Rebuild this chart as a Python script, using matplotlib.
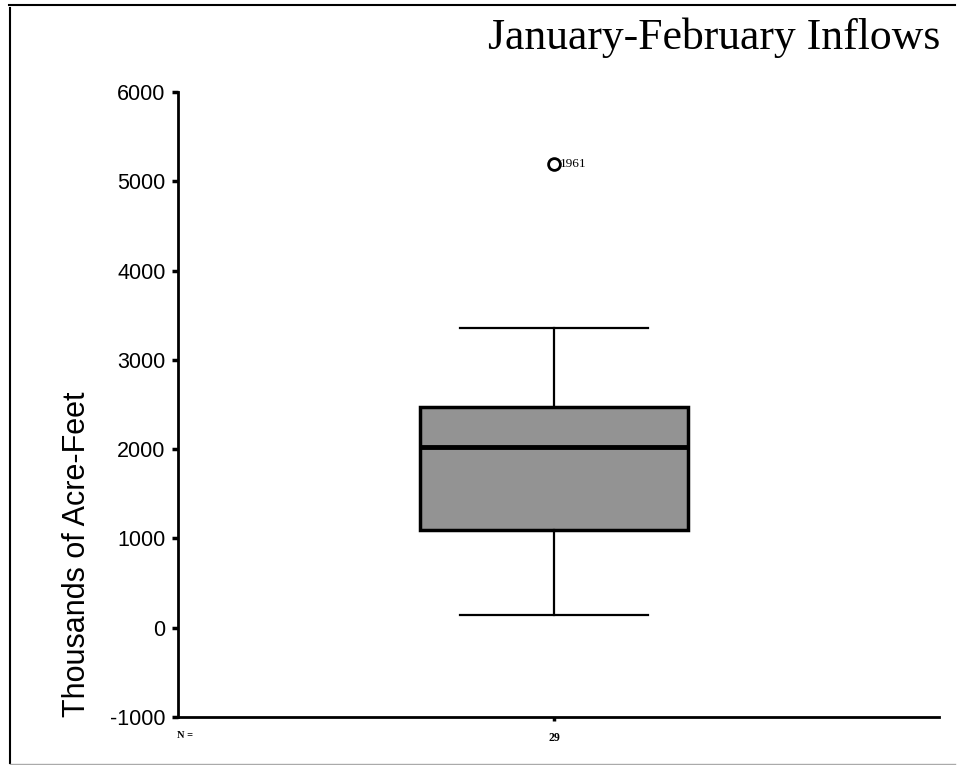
import matplotlib
matplotlib.use('Agg')
import matplotlib.pyplot as plt
from matplotlib.lines import Line2D

# box plot summary (thousands of acre-feet)
group_n = ['29']
q1 = [1095]
median = [2025]
q3 = [2475]
whisker_low = [145]
whisker_high = [3360]
outlier_values = [5190]
outlier_labels = ['1961']
y_ticks = [-1000, 0, 1000, 2000, 3000, 4000, 5000, 6000]

fig = plt.figure(figsize=(9.64, 7.65), dpi=100)
ax = fig.add_axes([178 / 964, 1 - 717 / 765, (939 - 178) / 964, (717 - 92) / 765])

stats = [{
    'med': median[0], 'q1': q1[0], 'q3': q3[0],
    'whislo': whisker_low[0], 'whishi': whisker_high[0],
    'fliers': outlier_values,
}]
ax.bxp(stats, positions=[1], widths=0.713, capwidths=0.5, patch_artist=True,
       boxprops=dict(facecolor='#939393', edgecolor='black', linewidth=2.5),
       medianprops=dict(color='black', linewidth=3.5),
       whiskerprops=dict(color='black', linewidth=1.6),
       capprops=dict(color='black', linewidth=1.6),
       flierprops=dict(marker='o', markersize=8.5, markerfacecolor='white',
                       markeredgecolor='black', markeredgewidth=2))

# outlier year label
for val, lab in zip(outlier_values, outlier_labels):
    ax.annotate(lab, (1, val), xytext=(4.5, 0), textcoords='offset points',
                va='center', ha='left', fontsize=9.5, family='Liberation Serif')

ax.set_xlim(0, 2.0243)
ax.set_ylim(-1000, 6000)
ax.set_yticks(y_ticks)
ax.set_yticklabels([str(t) for t in y_ticks], fontsize=15.5, family='Liberation Sans')
ax.set_xticks([1])
ax.set_xticklabels(group_n, fontsize=8.5, family='Liberation Serif', fontweight='bold')

for s in ['top', 'right']:
    ax.spines[s].set_visible(False)
for s in ['left', 'bottom']:
    ax.spines[s].set_linewidth(2)
ax.tick_params(axis='y', direction='out', length=4, width=2.5, pad=5)
ax.tick_params(axis='x', direction='out', length=3, width=2.5, pad=8)

ax.set_ylabel('Thousands of Acre-Feet', fontsize=22, family='Liberation Sans')
ax.yaxis.set_label_coords(92 / 964, 0.275, transform=fig.transFigure)

fig.text(940 / 964, 1 - 49 / 765, 'January-February Inflows', ha='right', va='baseline',
         fontsize=31.5, family='Liberation Serif')
fig.text(185 / 964, 1 - 736 / 765, 'N =', ha='center', va='center',
         fontsize=7.5, family='Liberation Serif', fontweight='bold')

# page frame from the scan
fig.add_artist(Line2D([10 / 964, 10 / 964], [1 - 8 / 765, 1 - 763 / 765], color='black', lw=1.5))
fig.add_artist(Line2D([9 / 964, 955 / 964], [1 - 5 / 765, 1 - 5 / 765], color='black', lw=1.5))
fig.add_artist(Line2D([10 / 964, 955 / 964], [1 - 764 / 765, 1 - 764 / 765], color='#aaaaaa', lw=1))

fig.savefig('out.png', dpi=100)
